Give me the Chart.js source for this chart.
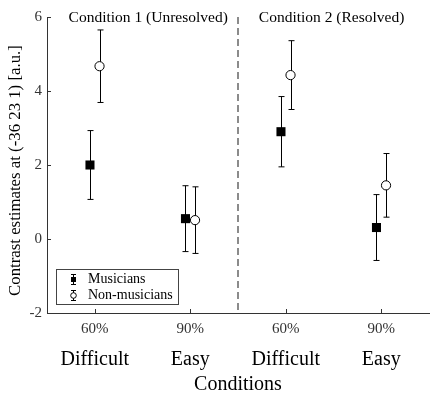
<!DOCTYPE html>
<html><head><meta charset="utf-8">
<script src="https://cdn.jsdelivr.net/npm/chart.js@4"></script>
<style>html,body{margin:0;padding:0;background:#fff}</style>
</head><body><canvas id="c" width="431" height="395"></canvas>
<script>
// ---- data ----
const conditionPositions = [1, 2, 3, 4];
const levelLabels = ['60%', '90%', '60%', '90%'];
const difficultyLabels = ['Difficult', 'Easy', 'Difficult', 'Easy'];
const groupNames = ['Musicians', 'Non-musicians'];
const musiciansMean = [2.0, 0.55, 2.9, 0.31];
const musiciansErr = [0.93, 0.89, 0.95, 0.89];
const nonMusiciansMean = [4.67, 0.51, 4.43, 1.45];
const nonMusiciansErr = [0.98, 0.90, 0.93, 0.86];
const groupOffset = [-0.05, 0.05];
const panelTitles = ['Condition 1 (Unresolved)', 'Condition 2 (Resolved)'];
const panelCenters = [1.56, 3.48];
const dividerAt = 2.5;
const yTickValues = [-2, 0, 2, 4, 6];
const yAxisTitle = 'Contrast estimates at (-36 23 1) [a.u.]';

const SERIF = '"Liberation Serif", "Times New Roman", serif';
const AXIS_COLOR = '#333';

function points(means, off) {
  return conditionPositions.map((p, i) => ({ x: p + off, y: means[i] }));
}

const errorBarPlugin = {
  id: 'errorBars',
  beforeDatasetsDraw(chart) {
    const ctx = chart.ctx, ys = chart.scales.y;
    ctx.save();
    ctx.strokeStyle = '#000';
    ctx.lineWidth = 1;
    chart.data.datasets.forEach((ds, di) => {
      const meta = chart.getDatasetMeta(di);
      meta.data.forEach((pt, i) => {
        const v = ds.data[i].y, e = ds.errors[i];
        const x = Math.round(pt.x) + 0.5;
        const yt = ys.getPixelForValue(v + e), yb = ys.getPixelForValue(v - e);
        ctx.beginPath();
        ctx.moveTo(x, yt); ctx.lineTo(x, yb);
        ctx.moveTo(x - 3, yt); ctx.lineTo(x + 3, yt);
        ctx.moveTo(x - 3, yb); ctx.lineTo(x + 3, yb);
        ctx.stroke();
      });
    });
    ctx.restore();
  }
};

const decorPlugin = {
  id: 'decor',
  afterDraw(chart) {
    const ctx = chart.ctx, xs = chart.scales.x, ys = chart.scales.y, a = chart.chartArea;
    ctx.save();
    // inward tick marks
    ctx.strokeStyle = AXIS_COLOR; ctx.lineWidth = 1;
    ctx.beginPath();
    yTickValues.forEach(v => {
      const y = Math.round(ys.getPixelForValue(v)) + 0.5;
      ctx.moveTo(a.left, y); ctx.lineTo(a.left + 4, y);
    });
    conditionPositions.forEach(p => {
      const x = Math.round(xs.getPixelForValue(p)) + 0.5;
      ctx.moveTo(x, a.bottom); ctx.lineTo(x, a.bottom - 4);
    });
    ctx.stroke();
    // dashed divider
    ctx.strokeStyle = '#666'; ctx.lineWidth = 1.5; ctx.setLineDash([7, 4]);
    const dx = xs.getPixelForValue(dividerAt);
    ctx.beginPath(); ctx.moveTo(dx, a.top); ctx.lineTo(dx, a.bottom); ctx.stroke();
    ctx.setLineDash([]);
    // panel titles
    ctx.fillStyle = '#000';
    ctx.font = '15.5px ' + SERIF;
    ctx.textAlign = 'center'; ctx.textBaseline = 'middle';
    panelTitles.forEach((t, i) => ctx.fillText(t, xs.getPixelForValue(panelCenters[i]), a.top + 1));
    // y axis title
    ctx.save();
    ctx.translate(16, ys.getPixelForValue(1.85));
    ctx.rotate(-Math.PI / 2);
    ctx.font = '16.8px ' + SERIF;
    ctx.fillText(yAxisTitle, 0, 0);
    ctx.restore();
    // legend
    const lx = 56.5, ly = 269.5, lw = 122, lh = 35;
    ctx.fillStyle = '#fff'; ctx.fillRect(lx, ly, lw, lh);
    ctx.strokeStyle = '#444'; ctx.lineWidth = 1; ctx.strokeRect(lx, ly, lw, lh);
    const rows = [ly + 10, ly + 26];
    const ix = 73.5;
    rows.forEach((ry, i) => {
      ctx.strokeStyle = '#000'; ctx.lineWidth = 1;
      ctx.beginPath();
      ctx.moveTo(ix, ry - 5); ctx.lineTo(ix, ry + 5);
      ctx.moveTo(ix - 2.5, ry - 5); ctx.lineTo(ix + 2.5, ry - 5);
      ctx.moveTo(ix - 2.5, ry + 5); ctx.lineTo(ix + 2.5, ry + 5);
      ctx.stroke();
      if (i === 0) {
        ctx.fillStyle = '#000'; ctx.fillRect(ix - 2.5, ry - 2.5, 5, 5);
      } else {
        ctx.fillStyle = '#fff';
        ctx.beginPath(); ctx.arc(ix, ry, 2.8, 0, Math.PI * 2); ctx.fill(); ctx.stroke();
      }
      ctx.fillStyle = '#000';
      ctx.font = '14px ' + SERIF;
      ctx.textAlign = 'left'; ctx.textBaseline = 'middle';
      ctx.fillText(groupNames[i], 88, ry);
    });
    ctx.restore();
  }
};

new Chart(document.getElementById('c'), {
  type: 'scatter',
  data: {
    datasets: [
      {
        label: groupNames[0],
        data: points(musiciansMean, groupOffset[0]),
        errors: musiciansErr,
        pointStyle: 'rect', pointRadius: 6.4, pointHoverRadius: 6.4,
        backgroundColor: '#000', borderColor: '#000', borderWidth: 0
      },
      {
        label: groupNames[1],
        data: points(nonMusiciansMean, groupOffset[1]),
        errors: nonMusiciansErr,
        pointStyle: 'circle', pointRadius: 4.6, pointHoverRadius: 4.6,
        backgroundColor: '#fff', borderColor: '#000', borderWidth: 1
      }
    ]
  },
  options: {
    responsive: false,
    animation: false,
    events: [],
    layout: { autoPadding: false, padding: { top: 17, right: 2, left: 0, bottom: 0 } },
    plugins: { legend: { display: false }, tooltip: { enabled: false } },
    scales: {
      y: {
        min: -2, max: 6,
        afterBuildTicks: s => { s.ticks = yTickValues.map(v => ({ value: v })); },
        afterFit: s => { s.width = 47; },
        grid: { display: false, drawTicks: false },
        border: { display: true, color: AXIS_COLOR, width: 1 },
        ticks: { color: '#333', font: { family: SERIF, size: 15 }, padding: 5 }
      },
      x: {
        type: 'linear', position: 'bottom', weight: 0,
        min: 0.5, max: 4.5,
        afterBuildTicks: s => { s.ticks = conditionPositions.map(v => ({ value: v })); },
        afterFit: s => { s.height = 28; s.paddingLeft = 0; s.paddingRight = 0; },
        grid: { display: false, drawTicks: false },
        border: { display: true, color: AXIS_COLOR, width: 1 },
        ticks: {
          color: '#333', font: { family: SERIF, size: 15 }, padding: 7, maxRotation: 0,
          callback: v => levelLabels[conditionPositions.indexOf(v)]
        }
      },
      x2: {
        type: 'linear', position: 'bottom', weight: 1,
        min: 0.5, max: 4.5,
        afterBuildTicks: s => { s.ticks = conditionPositions.map(v => ({ value: v })); },
        afterFit: s => { s.height = 54; s.paddingLeft = 0; s.paddingRight = 0; },
        grid: { display: false, drawTicks: false },
        border: { display: false },
        ticks: {
          color: '#000', font: { family: SERIF, size: 20 }, padding: 7, maxRotation: 0,
          callback: v => difficultyLabels[conditionPositions.indexOf(v)]
        },
        title: {
          display: true, text: 'Conditions', color: '#000',
          font: { family: SERIF, size: 20, lineHeight: 1 }, padding: { top: 0, bottom: 0 }
        }
      }
    }
  },
  plugins: [errorBarPlugin, decorPlugin]
});
</script>
</body></html>
